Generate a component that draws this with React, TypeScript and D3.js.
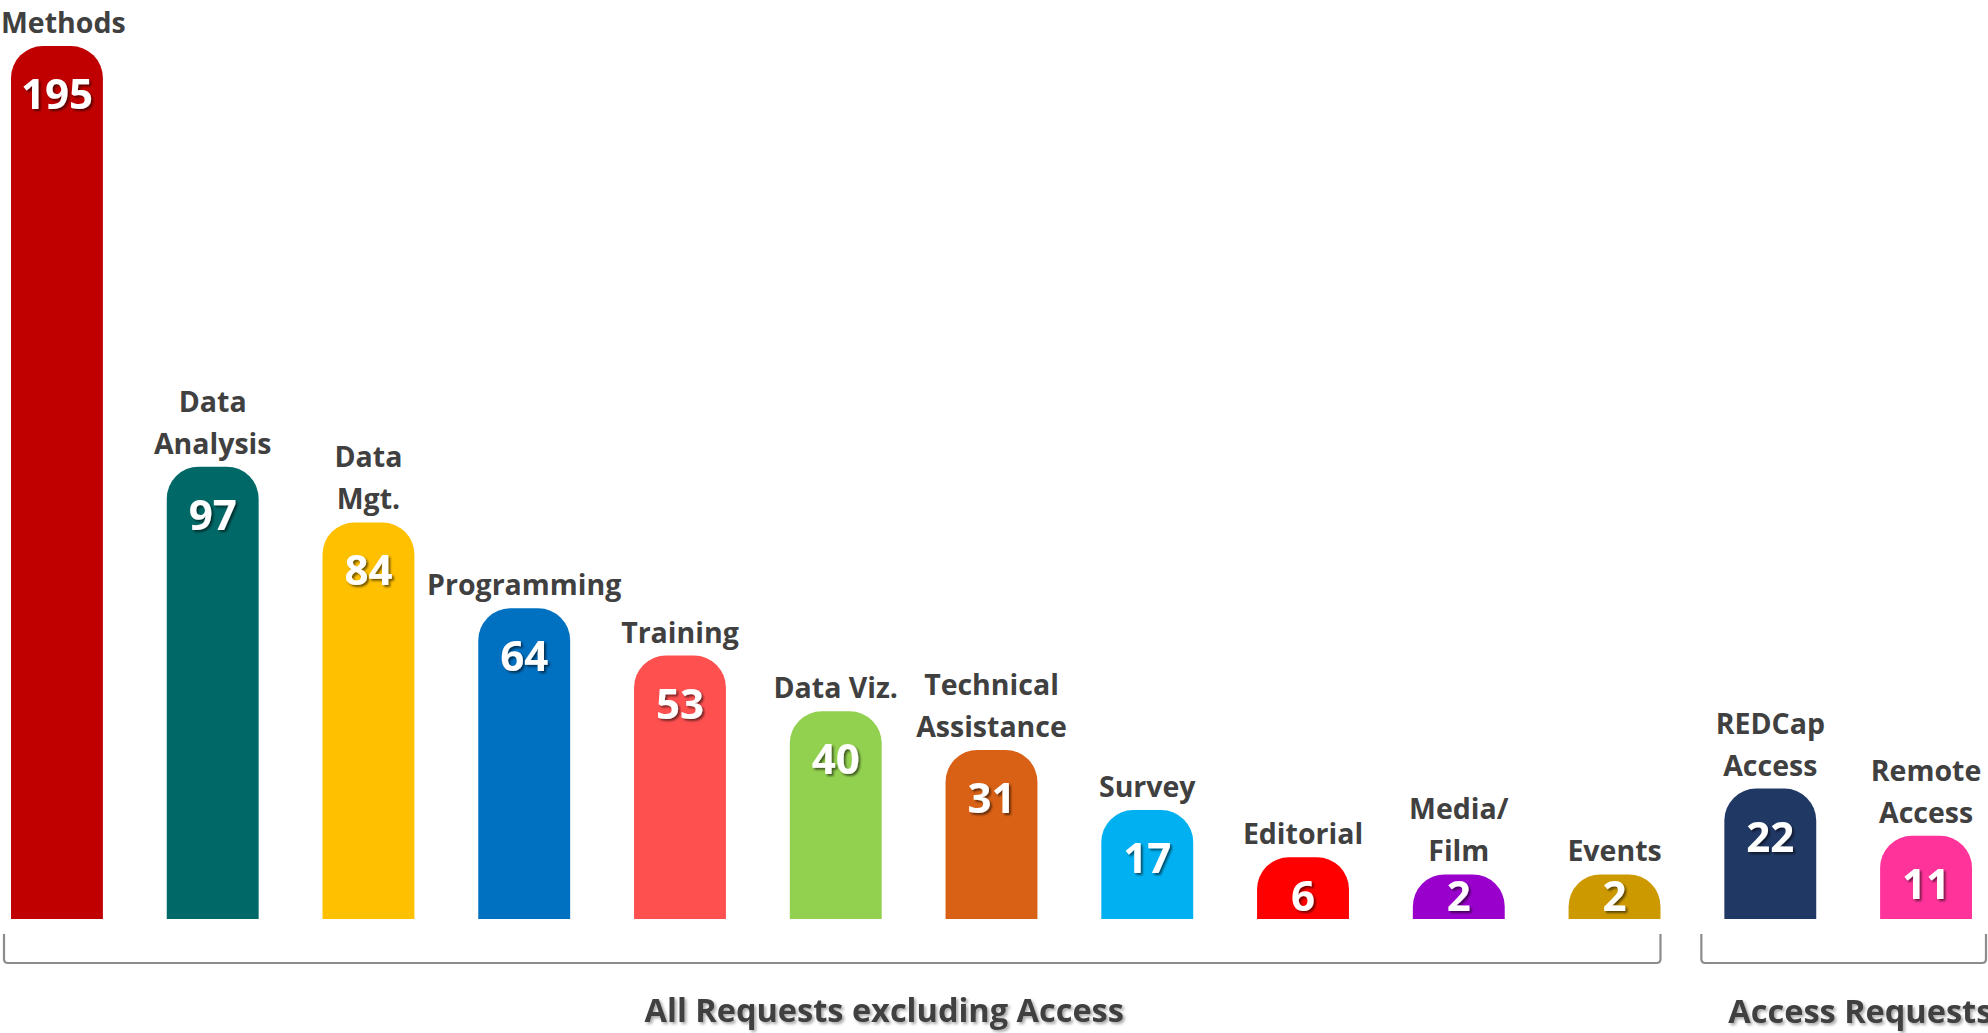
import React, { useEffect, useRef } from "react";
import * as d3 from "d3";

const categories = [
  "Methods", "Data Analysis", "Data Mgt.", "Programming", "Training", "Data Viz.",
  "Technical Assistance", "Survey", "Editorial", "Media/ Film", "Events",
  "REDCap Access", "Remote Access",
];
const labelLines = [
  ["Methods"], ["Data", "Analysis"], ["Data", "Mgt."], ["Programming"], ["Training"],
  ["Data Viz."], ["Technical", "Assistance"], ["Survey"], ["Editorial"], ["Media/", "Film"],
  ["Events"], ["REDCap", "Access"], ["Remote", "Access"],
];
const values = [195, 97, 84, 64, 53, 40, 31, 17, 6, 2, 2, 22, 11];
const colors = [
  "#C00000", "#006866", "#FFC000", "#0070C0", "#FF5050", "#92D050",
  "#D86116", "#00B0F0", "#FF0000", "#9900CC", "#CC9900", "#203864", "#FF3399",
];
const groupLabels = ["All Requests excluding Access", "Access Requests"];
const groupFirst = [0, 11];
const groupLast = [10, 12];

const W = 1988;
const H = 1033;
const FONT = "'Open Sans', 'DejaVu Sans', sans-serif";

export default function App() {
  const ref = useRef<SVGSVGElement | null>(null);

  useEffect(() => {
    const svg = d3.select(ref.current);
    svg.selectAll("*").remove();

    const defs = svg.append("defs");
    const f1 = defs.append("filter").attr("id", "valShadow").attr("x", "-20%").attr("y", "-20%").attr("width", "150%").attr("height", "150%");
    f1.append("feDropShadow").attr("dx", 2).attr("dy", 2).attr("stdDeviation", 1.2)
      .attr("flood-color", "#000").attr("flood-opacity", 0.55);
    const f2 = defs.append("filter").attr("id", "grpShadow").attr("x", "-5%").attr("y", "-20%").attr("width", "110%").attr("height", "150%");
    f2.append("feDropShadow").attr("dx", 2).attr("dy", 2).attr("stdDeviation", 1.5)
      .attr("flood-color", "#000").attr("flood-opacity", 0.35);

    const baseline = 919;
    const capExtra = 36;
    const x = d3.scaleBand<string>().domain(categories).range([11, 1972]).paddingInner(0.41).paddingOuter(0);
    const y = d3.scaleLinear().domain([0, 195]).range([baseline - capExtra, 46]);
    const bw = x.bandwidth();
    const r = 32;

    const barPath = (x0: number, top: number, w: number, bottom: number) => {
      const rr = Math.min(r, w / 2, bottom - top);
      return `M${x0},${bottom}V${top + rr}A${rr},${rr} 0 0 1 ${x0 + rr},${top}H${x0 + w - rr}A${rr},${rr} 0 0 1 ${x0 + w},${top + rr}V${bottom}Z`;
    };

    const g = svg.append("g");

    g.selectAll("path.bar")
      .data(values)
      .join("path")
      .attr("class", "bar")
      .attr("fill", (_, i) => colors[i])
      .attr("d", (v, i) => barPath(x(categories[i])!, y(v), bw, baseline));

    // value labels
    g.selectAll("text.val")
      .data(values)
      .join("text")
      .attr("class", "val")
      .attr("x", (_, i) => x(categories[i])! + bw / 2)
      .attr("y", (v) => Math.min(y(v) + 48, baseline - 23) + 15)
      .attr("text-anchor", "middle")
      .attr("font-family", FONT)
      .attr("font-weight", 700)
      .attr("font-size", 42)
      .attr("fill", "#fff")
      .attr("filter", "url(#valShadow)")
      .text((v) => String(v));

    // category labels
    const cat = g.selectAll("text.cat")
      .data(values)
      .join("text")
      .attr("class", "cat")
      .attr("text-anchor", "middle")
      .attr("font-family", FONT)
      .attr("font-weight", 700)
      .attr("font-size", 28.5)
      .attr("fill", "#404040");
    cat.each(function (v, i) {
      const t = d3.select(this);
      const lines = labelLines[i];
      const cx = x(categories[i])! + bw / 2;
      const lastY = y(v) - 13;
      lines.forEach((ln, k) => {
        t.append("tspan")
          .attr("x", cx)
          .attr("y", lastY - (lines.length - 1 - k) * 42)
          .text(ln);
      });
      const bb = (this as SVGTextElement).getBBox();
      if (bb.x < 1) {
        const shift = 1 - bb.x;
        t.selectAll("tspan").attr("x", cx + shift);
      }
    });

    // brackets
    const bTop = 934;
    const bBot = 963;
    const cr = 4;
    const bx0 = [x(categories[groupFirst[0]])! - 7, x(categories[groupFirst[1]])! - 23];
    const bx1 = [x(categories[groupLast[0]])! + bw, x(categories[groupLast[1]])! + bw + 14];
    groupLabels.forEach((_, gi) => {
      const a = bx0[gi];
      const b = bx1[gi];
      g.append("path")
        .attr("d", `M${a},${bTop}V${bBot - cr}Q${a},${bBot} ${a + cr},${bBot}H${b - cr}Q${b},${bBot} ${b},${bBot - cr}V${bTop}`)
        .attr("fill", "none")
        .attr("stroke", "#8c8c8c")
        .attr("stroke-width", 2.2);
    });

    // group labels
    g.append("text")
      .attr("x", (bx0[0] + bx1[0]) / 2 + 52)
      .attr("y", 1022)
      .attr("text-anchor", "middle")
      .attr("font-family", FONT)
      .attr("font-weight", 700)
      .attr("font-size", 32.5)
      .attr("fill", "#404040")
      .attr("filter", "url(#grpShadow)")
      .text(groupLabels[0]);
    g.append("text")
      .attr("x", x(categories[groupFirst[1]])! + 4)
      .attr("y", 1023)
      .attr("text-anchor", "start")
      .attr("font-family", FONT)
      .attr("font-weight", 700)
      .attr("font-size", 32.5)
      .attr("fill", "#404040")
      .attr("filter", "url(#grpShadow)")
      .text(groupLabels[1]);
  }, []);

  return (
    <svg
      ref={ref}
      width={W}
      height={H}
      viewBox={`0 0 ${W} ${H}`}
      style={{ position: "absolute", left: 0, top: 0, display: "block", background: "#fff" }}
    />
  );
}
